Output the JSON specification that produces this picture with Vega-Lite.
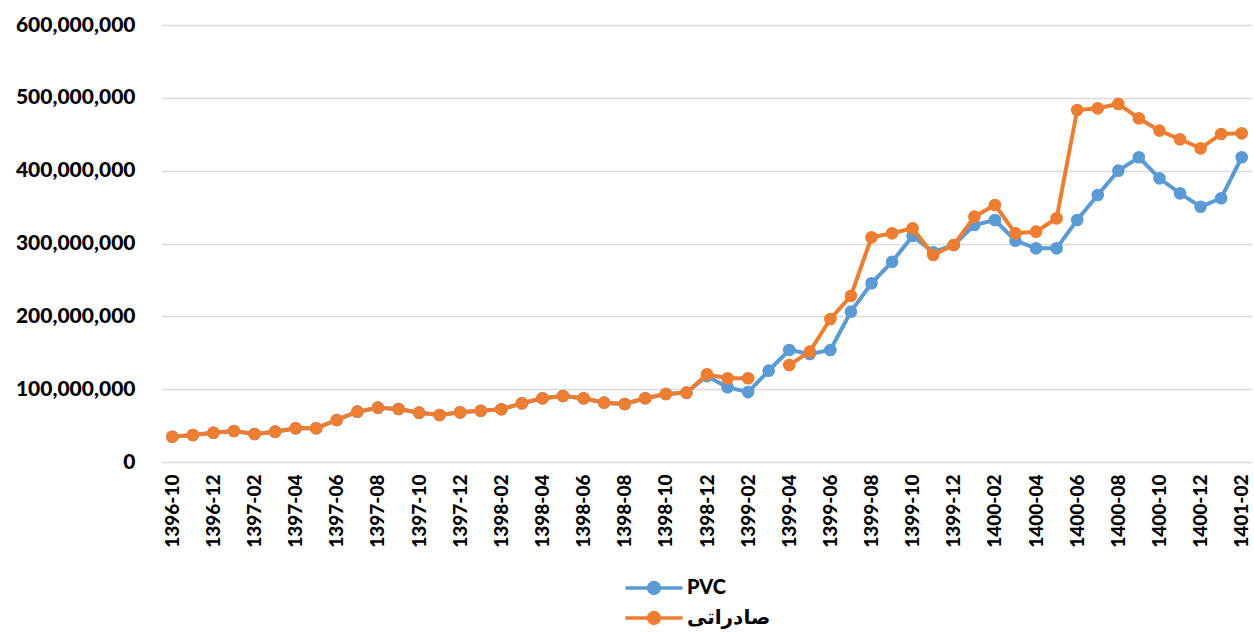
{
  "$schema": "https://vega.github.io/schema/vega-lite/v6.json",
  "autosize": {"type": "none"},
  "padding": {"left": 162, "top": 25, "right": 2, "bottom": 170},
  "width": 1090,
  "height": 437,
  "background": "white",
  "config": {
    "view": {"stroke": null},
    "font": "Lato, DejaVu Sans"
  },
  "datasets": {
    "wide": [
      {"m": "1396-10", "pvc": 34700000, "exp": 34700000},
      {"m": "1396-11", "pvc": 37100000, "exp": 37100000},
      {"m": "1396-12", "pvc": 40200000, "exp": 40200000},
      {"m": "1397-01", "pvc": 42600000, "exp": 42600000},
      {"m": "1397-02", "pvc": 38400000, "exp": 38400000},
      {"m": "1397-03", "pvc": 41600000, "exp": 41600000},
      {"m": "1397-04", "pvc": 46300000, "exp": 46300000},
      {"m": "1397-05", "pvc": 46300000, "exp": 46300000},
      {"m": "1397-06", "pvc": 57700000, "exp": 57700000},
      {"m": "1397-07", "pvc": 69100000, "exp": 69100000},
      {"m": "1397-08", "pvc": 74600000, "exp": 74600000},
      {"m": "1397-09", "pvc": 72800000, "exp": 72800000},
      {"m": "1397-10", "pvc": 67700000, "exp": 67700000},
      {"m": "1397-11", "pvc": 64500000, "exp": 64500000},
      {"m": "1397-12", "pvc": 68200000, "exp": 68200000},
      {"m": "1398-01", "pvc": 70400000, "exp": 70400000},
      {"m": "1398-02", "pvc": 72400000, "exp": 72400000},
      {"m": "1398-03", "pvc": 80600000, "exp": 80600000},
      {"m": "1398-04", "pvc": 87500000, "exp": 87500000},
      {"m": "1398-05", "pvc": 90600000, "exp": 90600000},
      {"m": "1398-06", "pvc": 87500000, "exp": 87500000},
      {"m": "1398-07", "pvc": 81500000, "exp": 81500000},
      {"m": "1398-08", "pvc": 79600000, "exp": 79600000},
      {"m": "1398-09", "pvc": 87500000, "exp": 87500000},
      {"m": "1398-10", "pvc": 93400000, "exp": 93400000},
      {"m": "1398-11", "pvc": 95200000, "exp": 95200000},
      {"m": "1398-12", "pvc": 118000000, "exp": 120400000},
      {"m": "1399-01", "pvc": 102600000, "exp": 114900000},
      {"m": "1399-02", "pvc": 96000000, "exp": 115000000},
      {"m": "1399-03", "pvc": 125400000, "exp": null},
      {"m": "1399-04", "pvc": 153800000, "exp": 133200000},
      {"m": "1399-05", "pvc": 148300000, "exp": 151500000},
      {"m": "1399-06", "pvc": 153800000, "exp": 196300000},
      {"m": "1399-07", "pvc": 206400000, "exp": 228300000},
      {"m": "1399-08", "pvc": 245400000, "exp": 308500000},
      {"m": "1399-09", "pvc": 275000000, "exp": 314000000},
      {"m": "1399-10", "pvc": 310300000, "exp": 320800000},
      {"m": "1399-11", "pvc": 288000000, "exp": 284200000},
      {"m": "1399-12", "pvc": 298000000, "exp": 298000000},
      {"m": "1400-01", "pvc": 325400000, "exp": 336800000},
      {"m": "1400-02", "pvc": 332300000, "exp": 352900000},
      {"m": "1400-03", "pvc": 303900000, "exp": 314000000},
      {"m": "1400-04", "pvc": 293400000, "exp": 316200000},
      {"m": "1400-05", "pvc": 293400000, "exp": 334600000},
      {"m": "1400-06", "pvc": 332300000, "exp": 483300000},
      {"m": "1400-07", "pvc": 366600000, "exp": 485600000},
      {"m": "1400-08", "pvc": 400000000, "exp": 491600000},
      {"m": "1400-09", "pvc": 418400000, "exp": 471900000},
      {"m": "1400-10", "pvc": 389500000, "exp": 455000000},
      {"m": "1400-11", "pvc": 368900000, "exp": 443100000},
      {"m": "1400-12", "pvc": 350500000, "exp": 430700000},
      {"m": "1401-01", "pvc": 362100000, "exp": 450400000},
      {"m": "1401-02", "pvc": 418400000, "exp": 451300000}
    ]
  },
  "data": {"name": "wide"},
  "transform": [
    {"fold": ["pvc", "exp"], "as": ["k", "v"]},
    {"lookup": "k", "from": {"data": {"values": [{"k": "pvc", "s": "PVC"}, {"k": "exp", "s": "صادراتی"}]}, "key": "k", "fields": ["s"]}}
  ],
  "encoding": {
    "x": {
      "field": "m", "type": "ordinal", "sort": null,
      "scale": {"type": "point", "padding": 0.5},
      "axis": {
        "title": null, "labelAngle": -90, "labelFontSize": 19, "labelFontWeight": 900,
        "labelColor": "#000000", "labelPadding": 12, "ticks": false, "domain": false, "grid": false,
        "labelBaseline": "middle", "labelAlign": "right",
        "values": ["1396-10","1396-12","1397-02","1397-04","1397-06","1397-08","1397-10","1397-12","1398-02","1398-04","1398-06","1398-08","1398-10","1398-12","1399-02","1399-04","1399-06","1399-08","1399-10","1399-12","1400-02","1400-04","1400-06","1400-08","1400-10","1400-12","1401-02"]
      }
    },
    "y": {
      "field": "v", "type": "quantitative",
      "scale": {"domain": [0, 600000000], "nice": false},
      "axis": {
        "title": null, "format": ",.0f", "values": [0, 100000000, 200000000, 300000000, 400000000, 500000000, 600000000],
        "labelFontSize": 21, "labelFontWeight": 900, "labelColor": "#000000", "labelPadding": 27,
        "ticks": false, "domain": false, "gridColor": "#d9d9d9", "gridWidth": 1.3
      }
    },
    "color": {
      "field": "s", "type": "nominal",
      "scale": {"domain": ["PVC", "صادراتی"], "range": ["#5b9bd5", "#ed7d31"]},
      "legend": {
        "title": null, "orient": "none", "direction": "vertical", "legendX": 478, "legendY": 549,
        "labelFontSize": 20, "labelFontWeight": 900, "labelColor": "#000000",
        "symbolType": "M-2.375,0H2.375M-0.45,0A0.45,0.45 0 1,1 0.45,0A0.45,0.45 0 1,1 -0.45,0Z",
        "symbolSize": 576, "symbolStrokeWidth": 3.5, "rowPadding": 3, "labelOffset": 19,
        "encode": {"symbols": {"update": {"fill": {"scale": "color", "field": "value"}, "stroke": {"scale": "color", "field": "value"}, "fillOpacity": {"value": 1}}}}
      }
    }
  },
  "layer": [
    {
      "transform": [{"filter": "datum.k === 'pvc'"}],
      "mark": {"type": "line", "strokeWidth": 4, "point": {"filled": true, "size": 160, "opacity": 1}}
    },
    {
      "transform": [{"filter": "datum.k === 'exp'"}],
      "mark": {"type": "line", "strokeWidth": 4, "point": {"filled": true, "size": 160, "opacity": 1}}
    }
  ]
}
